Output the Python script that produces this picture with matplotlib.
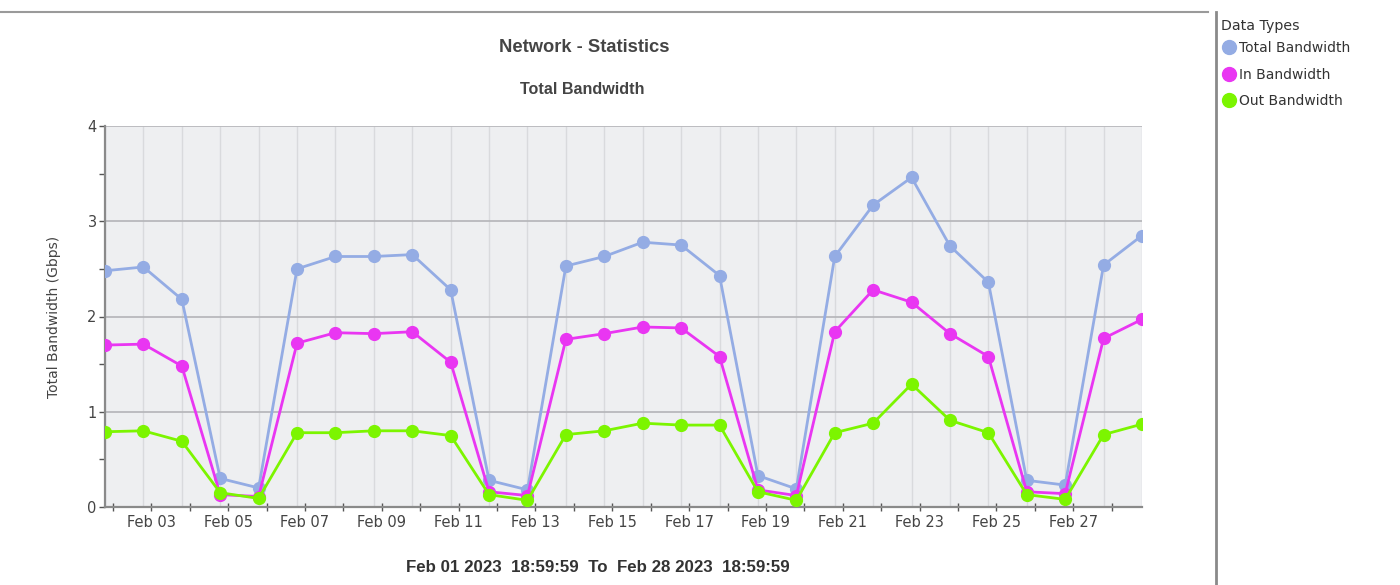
import numpy as np
import pandas as pd
import matplotlib
matplotlib.use('Agg')
import matplotlib.pyplot as plt
import matplotlib.dates as mdates
from matplotlib.lines import Line2D
from matplotlib.ticker import FixedLocator, NullFormatter

# daily samples, Feb 01 .. Feb 28 2023 at 18:59:59
dates = pd.date_range('2023-02-01 18:59:59', periods=28, freq='D')

total_bw = [2.48, 2.52, 2.18, 0.30, 0.20, 2.50, 2.63, 2.63, 2.65, 2.28,
            0.28, 0.18, 2.53, 2.63, 2.78, 2.75, 2.43, 0.33, 0.19, 2.63,
            3.17, 3.46, 2.74, 2.36, 0.28, 0.23, 2.54, 2.85]
in_bw = [1.70, 1.71, 1.48, 0.13, 0.11, 1.72, 1.83, 1.82, 1.84, 1.52,
         0.16, 0.12, 1.76, 1.82, 1.89, 1.88, 1.58, 0.18, 0.12, 1.84,
         2.28, 2.15, 1.82, 1.58, 0.16, 0.14, 1.77, 1.97]
out_bw = [0.79, 0.80, 0.69, 0.15, 0.09, 0.78, 0.78, 0.80, 0.80, 0.75,
          0.13, 0.07, 0.76, 0.80, 0.88, 0.86, 0.86, 0.16, 0.07, 0.78,
          0.88, 1.29, 0.91, 0.78, 0.13, 0.08, 0.76, 0.87]

series_names = ['Total Bandwidth', 'In Bandwidth', 'Out Bandwidth']
series_colors = ['#94acE4', '#e936f2', '#7cf500']

fig = plt.figure(figsize=(14, 5.85), dpi=100)
ax = fig.add_axes([105 / 1400, 78 / 585, 1037 / 1400, 381 / 585])
ax.set_facecolor('#eeeff1')

# vertical grid at each sample
ax.vlines(dates, 0, 4, color='#d9dadd', lw=1, zorder=0.5)
ax.set_axisbelow(True)
ax.yaxis.grid(True, which='major', color='#b4b4b8', lw=1.2)

for values, name, col in zip([total_bw, in_bw, out_bw], series_names,
                             series_colors):
    ax.plot(dates, values, color=col, lw=2, marker='o', ms=8.5,
            label=name, zorder=3)

ax.set_xlim(dates[0], dates[-1])
ax.set_ylim(0, 4)
ax.set_yticks([0, 1, 2, 3, 4])
ax.yaxis.set_minor_locator(FixedLocator([0.5, 1.5, 2.5, 3.5]))

ax.xaxis.set_major_locator(mdates.DayLocator(bymonthday=range(3, 29, 2)))
ax.xaxis.set_major_formatter(mdates.DateFormatter('%b %d'))
ax.xaxis.set_minor_locator(mdates.DayLocator())
ax.xaxis.set_minor_formatter(NullFormatter())

for side in ['top', 'right']:
    ax.spines[side].set_visible(False)
for side in ['left', 'bottom']:
    ax.spines[side].set_color('#8a8a8a')
    ax.spines[side].set_linewidth(1.6)

ax.tick_params(axis='both', which='both', colors='#555555', labelcolor='#444444',
               labelsize=10.5, width=1)
ax.tick_params(axis='x', which='both', direction='inout', length=6, pad=3)
ax.tick_params(axis='y', which='both', direction='out', length=4, pad=2)

ax.set_ylabel('Total Bandwidth (Gbps)', fontsize=10, color='#444444',
              labelpad=19)

fig.text(584 / 1400, 1 - 47 / 585, 'Network - Statistics', ha='center',
         va='center', fontsize=13.2, fontweight='bold', color='#444444',
         family='Liberation Sans')
fig.text(582 / 1400, 1 - 89 / 585, 'Total Bandwidth', ha='center',
         va='center', fontsize=11.6, fontweight='bold', color='#444444',
         family='Liberation Sans')
fig.text(598 / 1400, 1 - 568 / 585,
         'Feb 01 2023  18:59:59  To  Feb 28 2023  18:59:59', ha='center',
         va='center', fontsize=12.2, fontweight='bold', color='#333333',
         family='Liberation Sans')

# panel borders
fig.add_artist(Line2D([0, 1208 / 1400], [1 - 12 / 585, 1 - 12 / 585],
                      transform=fig.transFigure, color='#9a9a9a', lw=1.5))
fig.add_artist(Line2D([1216 / 1400, 1216 / 1400], [0, 1 - 12 / 585],
                      transform=fig.transFigure, color='#8a8a8a', lw=2))

handles = [Line2D([], [], ls='', marker='o', ms=10, color=c)
           for c in series_colors]
leg = fig.legend(handles, series_names, title='Data Types',
                 loc='upper left', bbox_to_anchor=(1211 / 1400, 1 - 9 / 585),
                 frameon=False, handlelength=1.15, handletextpad=0.2,
                 labelspacing=0.9, fontsize=10, title_fontsize=10.2,
                 alignment='left', borderaxespad=0.3)
# tighter gap between legend title and first entry
leg._legend_box.sep = 6.0
for t in leg.get_texts():
    t.set_color('#333333')
leg.get_title().set_color('#333333')

fig.savefig('out.png', dpi=100)
